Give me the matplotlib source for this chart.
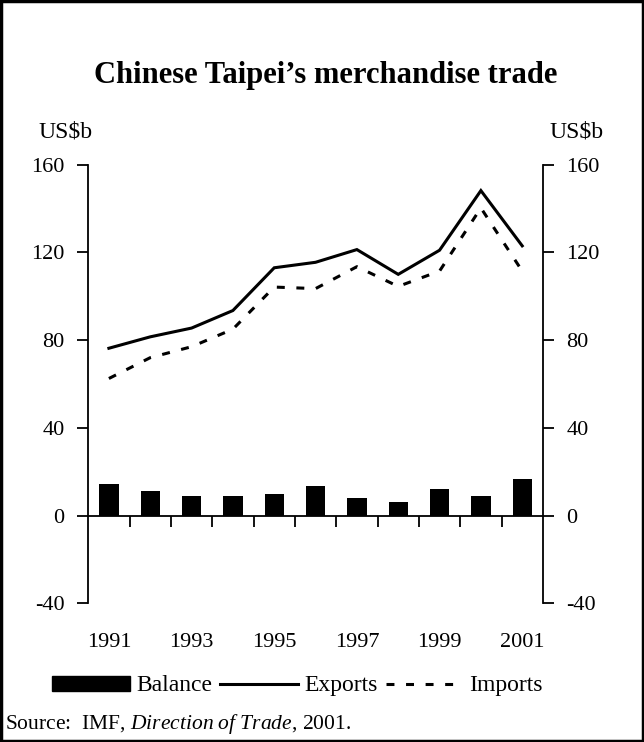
import numpy as np
import matplotlib
matplotlib.use("Agg")
import matplotlib.pyplot as plt
from matplotlib.patches import Patch, Rectangle
from matplotlib.lines import Line2D

# ==== DANE (US$b) ====
YEARS = [1991, 1992, 1993, 1994, 1995, 1996, 1997, 1998, 1999, 2000, 2001]
EXPORTS = [76.3, 81.5, 85.5, 93.5, 113.0, 115.5, 121.3, 110.0, 121.0, 148.2, 123.0]
IMPORTS = [62.5, 72.0, 77.0, 85.0, 104.2, 103.5, 113.5, 104.5, 111.5, 140.3, 111.5]
BALANCE = [14.6, 11.0, 9.1, 9.1, 10.0, 13.7, 8.2, 6.4, 11.9, 9.1, 16.5]
YEAR_LABELS = [1991, 1993, 1995, 1997, 1999, 2001]
Y_TICKS = [-40, 0, 40, 80, 120, 160]

# ==== USTAWIENIA ====
FONT = "Liberation Serif"
TICK_FS = 16
LW = 2.2
DASHES = (2.6, 3.8)
plt.rcParams["font.family"] = FONT
plt.rcParams["axes.unicode_minus"] = False
plt.rcParams["mathtext.fontset"] = "custom"
plt.rcParams["mathtext.rm"] = FONT
plt.rcParams["mathtext.it"] = FONT + ":italic"

fig = plt.figure(figsize=(6.44, 7.42), dpi=100)
ax = fig.add_axes([0.137, 0.187, 0.706, 0.591])

x = np.array(YEARS, dtype=float)
ax.bar(x, BALANCE, width=0.47, color="black", zorder=2)
ax.plot(x, EXPORTS, color="black", linewidth=LW, solid_joinstyle="miter")
ax.plot(x, IMPORTS, color="black", linewidth=LW, dashes=DASHES)

ax.set_xlim(1990.5, 2001.5)
ax.set_ylim(-40, 160)

# osie
ax.spines["top"].set_visible(False)
ax.spines["bottom"].set_position(("data", 0))
for s in ["left", "right", "bottom"]:
    ax.spines[s].set_linewidth(1.3)

ax.set_xticks(np.arange(1991.5, 2001, 1.0))
ax.tick_params(axis="x", direction="out", length=8, width=1.3, labelbottom=False)
ax.set_yticks(Y_TICKS)
ax.tick_params(axis="y", direction="out", length=8, width=1.3, labelsize=TICK_FS,
               left=True, right=True, labelleft=True, labelright=True, pad=9)

sec = ax.secondary_xaxis("bottom")
sec.set_xticks(YEAR_LABELS)
sec.tick_params(length=0, labelsize=TICK_FS, pad=21.5)
sec.spines["bottom"].set_visible(False)

ax.text(0.009, 1.075, "US$b", transform=ax.transAxes, ha="right", va="center", fontsize=17)
ax.text(1.015, 1.075, "US$b", transform=ax.transAxes, ha="left", va="center", fontsize=17)

# tytuł
fig.text(0.505, 0.888, "Chinese Taipei\u2019s merchandise trade", ha="center", va="baseline",
         fontsize=22, fontweight="bold")

# legenda
handles = [
    Patch(facecolor="black", edgecolor="black"),
    Line2D([], [], color="black", linewidth=LW),
    Line2D([], [], color="black", linewidth=LW, dashes=DASHES),
]
fig.legend(handles, ["Balance", "Exports", "Imports"], loc="center", ncol=3,
           bbox_to_anchor=(0.462, 0.0755), frameon=False, fontsize=17,
           handlelength=3.3, handleheight=0.6, handletextpad=0.25, columnspacing=0.35,
           borderpad=0, borderaxespad=0)

# źródło
fig.text(0.008, 0.024, r"Source:  IMF, $\mathit{Direction\ of\ Trade}$, 2001.",
         ha="left", va="center", fontsize=15.5)

# ramka
fig.patches.append(Rectangle((0.002, 0.002), 0.996, 0.996, transform=fig.transFigure,
                             fill=False, edgecolor="black", linewidth=2.5))

fig.savefig("out.png", dpi=100)
